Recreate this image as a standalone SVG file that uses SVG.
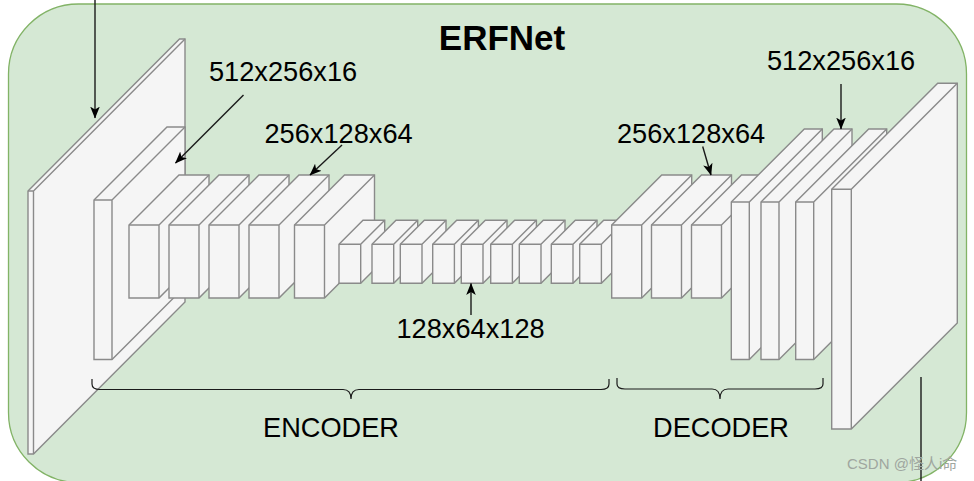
<svg xmlns="http://www.w3.org/2000/svg" width="974" height="481" viewBox="0 0 974 481">
<style>
.f{fill:#f5f5f5;stroke:#8a8a8a;stroke-width:1.4;stroke-linejoin:miter}
.e{fill:none;stroke:#8a8a8a;stroke-width:1.4}
.l{fill:none;stroke:#1a1a1a;stroke-width:1.4}
.b{fill:none;stroke:#1a1a1a;stroke-width:1.2}
text{font-family:"Liberation Sans",Arial,sans-serif;font-size:27.2px;fill:#000}
.t{font-size:35px;font-weight:bold}
.w{font-family:"Liberation Sans","Noto Sans CJK SC",sans-serif;font-size:15px;fill:#9fa69f}
</style>
<defs>
<marker id="a" markerUnits="userSpaceOnUse" viewBox="0 0 10 10" refX="9.500" refY="5" markerWidth="12" markerHeight="12" orient="auto"><path d="M0 1L10 5L0 9L2.500 5Z" fill="#000"/></marker>
<g id="m"><polygon class="f" points="0,0 50,-50 80,-50 80,23 30,73 0,73"/><path class="e" d="M0 0H30V73M30 0L80-50"/></g>
<g id="s"><polygon class="f" points="0,0 24,-24 45.700,-24 45.700,15 21.700,39 0,39"/><path class="e" d="M0 0H21.700V39M21.700 0L45.700-24"/></g>
<g id="k"><polygon class="f" points="0,0 73,-73 91,-73 91,84.500 18,157.500 0,157.500"/><path class="e" d="M0 0H18V157.500M18 0L91-73"/></g>
</defs>
<g id="background"><rect x="8.500" y="4" width="958" height="478.500" rx="70" ry="70" fill="#d5e8d4" stroke="#82b366" stroke-width="1.3"/></g>
<g id="title"><text class="t" x="502" y="50" text-anchor="middle">ERFNet</text></g>
<g id="input-plane"><polygon class="f" points="28,191 179.500,39 185,39 185,302 33.500,454 28,454"/><path class="e" d="M28 191H33.500V454M33.500 191L185 39"/></g>
<g id="enc-1"><polygon class="f" points="94,200 167,127 185,127 185,286.500 112,359.500 94,359.500"/><path class="e" d="M94 200H112V359.500M112 200L185 127"/></g>
<g id="enc-2"><use href="#m" x="129" y="225"/></g>
<g id="enc-3"><use href="#m" x="169" y="225"/></g>
<g id="enc-4"><use href="#m" x="209" y="225"/></g>
<g id="enc-5"><use href="#m" x="249" y="225"/></g>
<g id="enc-6"><use href="#m" x="294.500" y="225"/></g>
<g id="mid-1"><use href="#s" x="339" y="244.300"/></g>
<g id="mid-2"><use href="#s" x="372" y="244.300"/></g>
<g id="mid-3"><use href="#s" x="400.300" y="244.300"/></g>
<g id="mid-4"><use href="#s" x="432.700" y="244.300"/></g>
<g id="mid-5"><use href="#s" x="461.300" y="244.300"/></g>
<g id="mid-6"><use href="#s" x="490.700" y="244.300"/></g>
<g id="mid-7"><use href="#s" x="519.300" y="244.300"/></g>
<g id="mid-8"><use href="#s" x="551.300" y="244.300"/></g>
<g id="mid-9"><use href="#s" x="579.700" y="244.300"/></g>
<g id="dec-1"><use href="#m" x="611.700" y="225"/></g>
<g id="dec-2"><use href="#m" x="651.500" y="225"/></g>
<g id="dec-3"><use href="#m" x="691.500" y="225"/></g>
<g id="dec-4"><use href="#k" x="731.300" y="202"/></g>
<g id="dec-5"><use href="#k" x="761" y="202"/></g>
<g id="dec-6"><use href="#k" x="795.700" y="202"/></g>
<g id="output-plane"><polygon class="f" points="831.700,189.300 937.700,83.300 957.300,83.300 957.300,323 851.300,429 831.700,429"/><path class="e" d="M831.700 189.300H851.300V429M851.300 189.300L957.300 83.300"/></g>
<g id="connectors">
<path class="l" d="M95 0V118" marker-end="url(#a)"/>
<path class="l" d="M243.500 95L175.500 163" marker-end="url(#a)"/>
<path class="l" d="M342 145L310 175" marker-end="url(#a)"/>
<path class="l" d="M471 315V283.500" marker-end="url(#a)"/>
<path class="l" d="M702.700 146.500L711 175" marker-end="url(#a)"/>
<path class="l" d="M841 84V129" marker-end="url(#a)"/>
<path class="l" d="M921 377V481"/>
<path class="b" d="M92 379V384Q92 389.500 100 389.500H343Q351 389.500 351 399Q351 389.500 359 389.500H601Q609 389.500 609 384V379"/>
<path class="b" d="M617 378V384Q617 389 625 389H712Q720 389 720 399Q720 389 728 389H815Q823 389 823 384V378"/>
</g>
<g id="labels">
<text x="209" y="81">512x256x16</text>
<text x="264.500" y="143">256x128x64</text>
<text x="396.500" y="338">128x64x128</text>
<text x="617" y="143">256x128x64</text>
<text x="767" y="69.500">512x256x16</text>
<text x="263" y="436.500">ENCODER</text>
<text x="653" y="436.500">DECODER</text>
<text class="w" x="847" y="469">CSDN @怪人i命</text>
</g>
</svg>
